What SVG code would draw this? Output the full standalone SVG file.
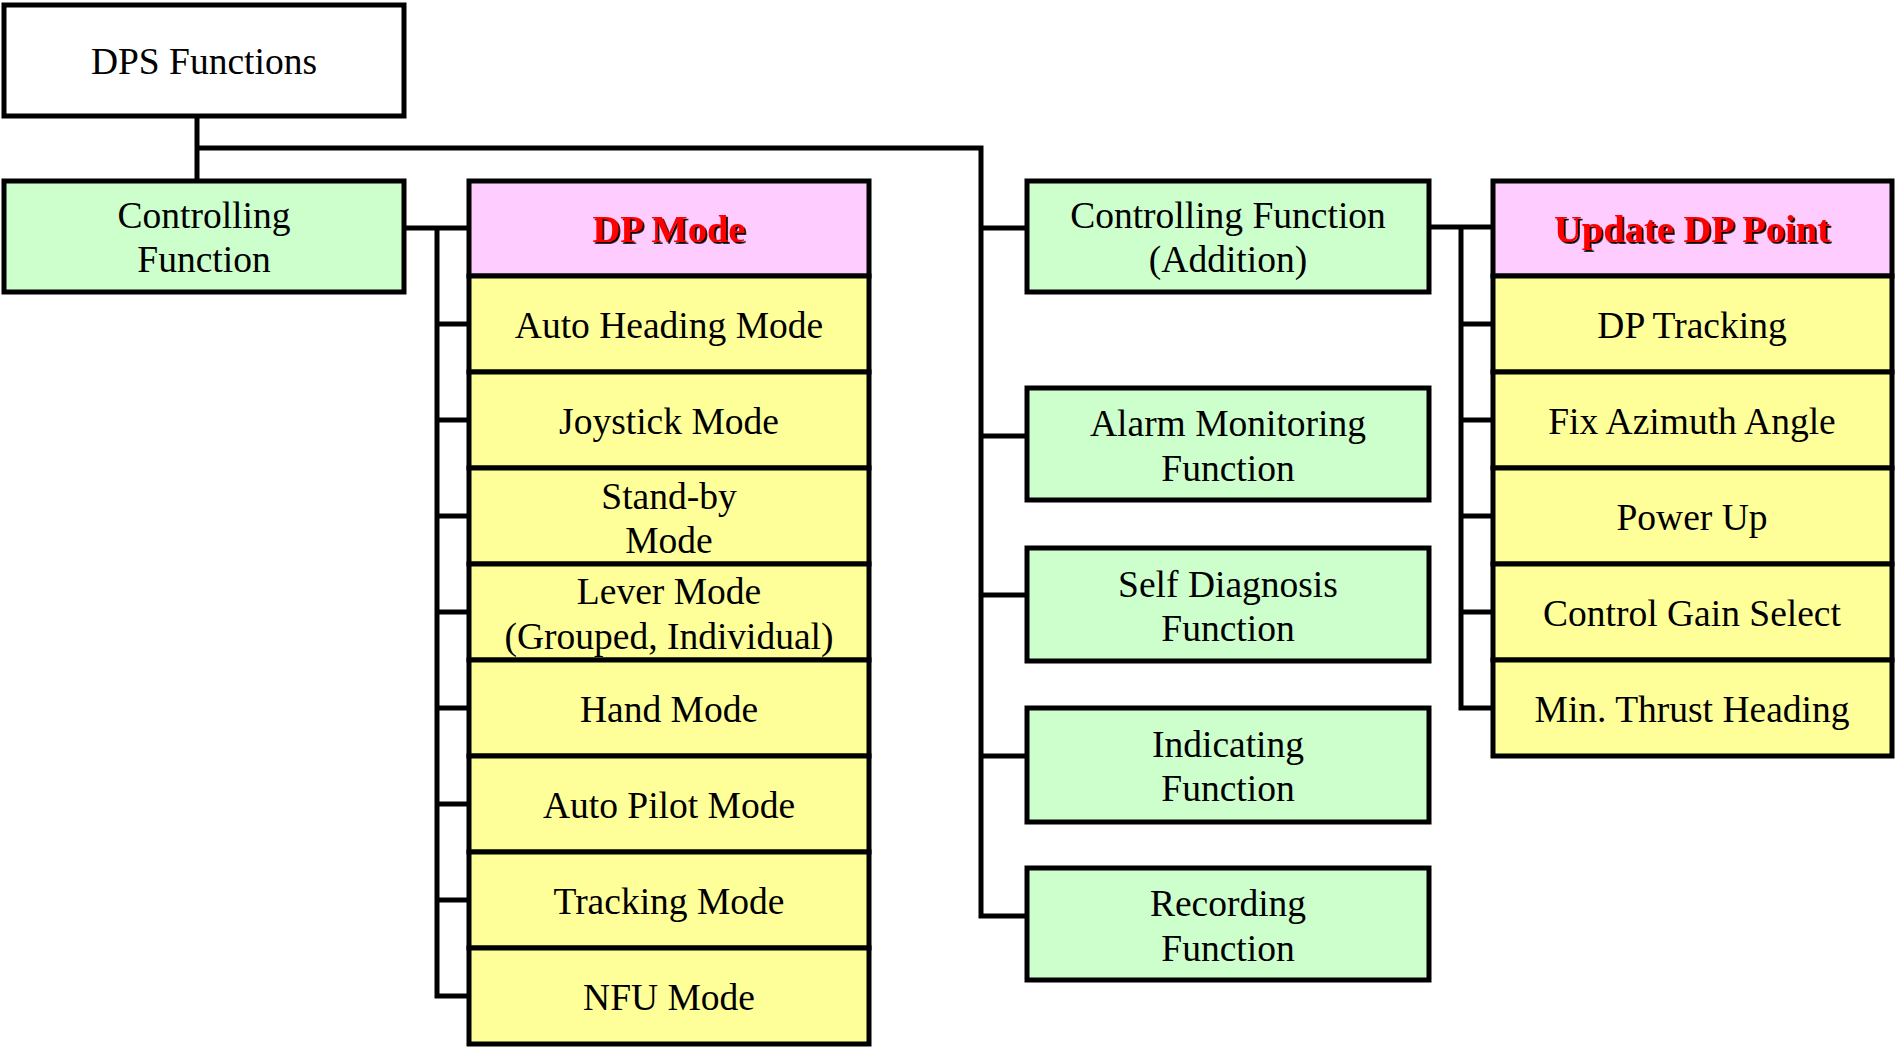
<svg xmlns="http://www.w3.org/2000/svg" width="1895" height="1047" viewBox="0 0 1895 1047">
<defs>
<filter id="shadow" x="-10%" y="-20%" width="120%" height="140%">
<feDropShadow dx="1.8" dy="1.8" stdDeviation="0.3" flood-color="#000000" flood-opacity="1"/>
</filter>
</defs>
<style>
rect{stroke:#000;stroke-width:5}
.w{fill:#ffffff}
.g{fill:#ccffcc}
.p{fill:#ffccff}
.y{fill:#ffff99}
text{font-family:"Liberation Serif","Times New Roman",serif;font-size:37.5px;fill:#000;text-anchor:middle}
.h{font-weight:bold;font-size:38.5px;fill:#ff0000;filter:url(#shadow)}
.c{fill:none;stroke:#000;stroke-width:5;stroke-linejoin:miter;stroke-linecap:butt}
</style>
<rect width="1895" height="1047" fill="#ffffff" style="stroke:none"/>
<g id="connectors">
<path class="c" d="M197,115 V181"/>
<path class="c" d="M197,148 H981 V916 H1027"/>
<path class="c" d="M981,228 H1027"/>
<path class="c" d="M981,436 H1027"/>
<path class="c" d="M981,595 H1027"/>
<path class="c" d="M981,756 H1027"/>
<path class="c" d="M404,228 H469"/>
<path class="c" d="M437,228 V996 H469"/>
<path class="c" d="M437,324 H469 M437,420 H469 M437,516 H469 M437,612 H469 M437,708 H469 M437,804 H469 M437,900 H469"/>
<path class="c" d="M1429,227 H1493"/>
<path class="c" d="M1461,227 V708 H1493"/>
<path class="c" d="M1461,324 H1493 M1461,420 H1493 M1461,516 H1493 M1461,612 H1493"/>
</g>
<g id="dps-functions"><rect class="w" x="4" y="5" width="400" height="111"/><text x="204" y="74">DPS Functions</text></g>
<g id="controlling-function"><rect class="g" x="4" y="181" width="400" height="111"/><text x="204" y="228">Controlling</text><text x="204" y="272">Function</text></g>
<g id="dp-mode"><rect class="p" x="469" y="181" width="400" height="95"/><text class="h" x="669" y="242">DP Mode</text></g>
<g id="auto-heading-mode"><rect class="y" x="469" y="276" width="400" height="96"/><text x="669" y="338">Auto Heading Mode</text></g>
<g id="joystick-mode"><rect class="y" x="469" y="372" width="400" height="96"/><text x="669" y="434">Joystick Mode</text></g>
<g id="stand-by-mode"><rect class="y" x="469" y="468" width="400" height="96"/><text x="669" y="509">Stand-by</text><text x="669" y="553">Mode</text></g>
<g id="lever-mode"><rect class="y" x="469" y="564" width="400" height="96"/><text x="669" y="604">Lever Mode</text><text x="669" y="649">(Grouped, Individual)</text></g>
<g id="hand-mode"><rect class="y" x="469" y="660" width="400" height="96"/><text x="669" y="722">Hand Mode</text></g>
<g id="auto-pilot-mode"><rect class="y" x="469" y="756" width="400" height="96"/><text x="669" y="818">Auto Pilot Mode</text></g>
<g id="tracking-mode"><rect class="y" x="469" y="852" width="400" height="96"/><text x="669" y="914">Tracking Mode</text></g>
<g id="nfu-mode"><rect class="y" x="469" y="948" width="400" height="96"/><text x="669" y="1010">NFU Mode</text></g>
<g id="controlling-function-addition"><rect class="g" x="1027" y="181" width="402" height="111"/><text x="1228" y="228">Controlling Function</text><text x="1228" y="272">(Addition)</text></g>
<g id="alarm-monitoring-function"><rect class="g" x="1027" y="388" width="402" height="112"/><text x="1228" y="436">Alarm Monitoring</text><text x="1228" y="481">Function</text></g>
<g id="self-diagnosis-function"><rect class="g" x="1027" y="548" width="402" height="113"/><text x="1228" y="597">Self Diagnosis</text><text x="1228" y="641">Function</text></g>
<g id="indicating-function"><rect class="g" x="1027" y="708" width="402" height="114"/><text x="1228" y="757">Indicating</text><text x="1228" y="801">Function</text></g>
<g id="recording-function"><rect class="g" x="1027" y="868" width="402" height="112"/><text x="1228" y="916">Recording</text><text x="1228" y="961">Function</text></g>
<g id="update-dp-point"><rect class="p" x="1493" y="181" width="399" height="95"/><text class="h" x="1692" y="242">Update DP Point</text></g>
<g id="dp-tracking"><rect class="y" x="1493" y="276" width="399" height="96"/><text x="1692" y="338">DP Tracking</text></g>
<g id="fix-azimuth-angle"><rect class="y" x="1493" y="372" width="399" height="96"/><text x="1692" y="434">Fix Azimuth Angle</text></g>
<g id="power-up"><rect class="y" x="1493" y="468" width="399" height="96"/><text x="1692" y="530">Power Up</text></g>
<g id="control-gain-select"><rect class="y" x="1493" y="564" width="399" height="96"/><text x="1692" y="626">Control Gain Select</text></g>
<g id="min-thrust-heading"><rect class="y" x="1493" y="660" width="399" height="96"/><text x="1692" y="722">Min. Thrust Heading</text></g>
</svg>
